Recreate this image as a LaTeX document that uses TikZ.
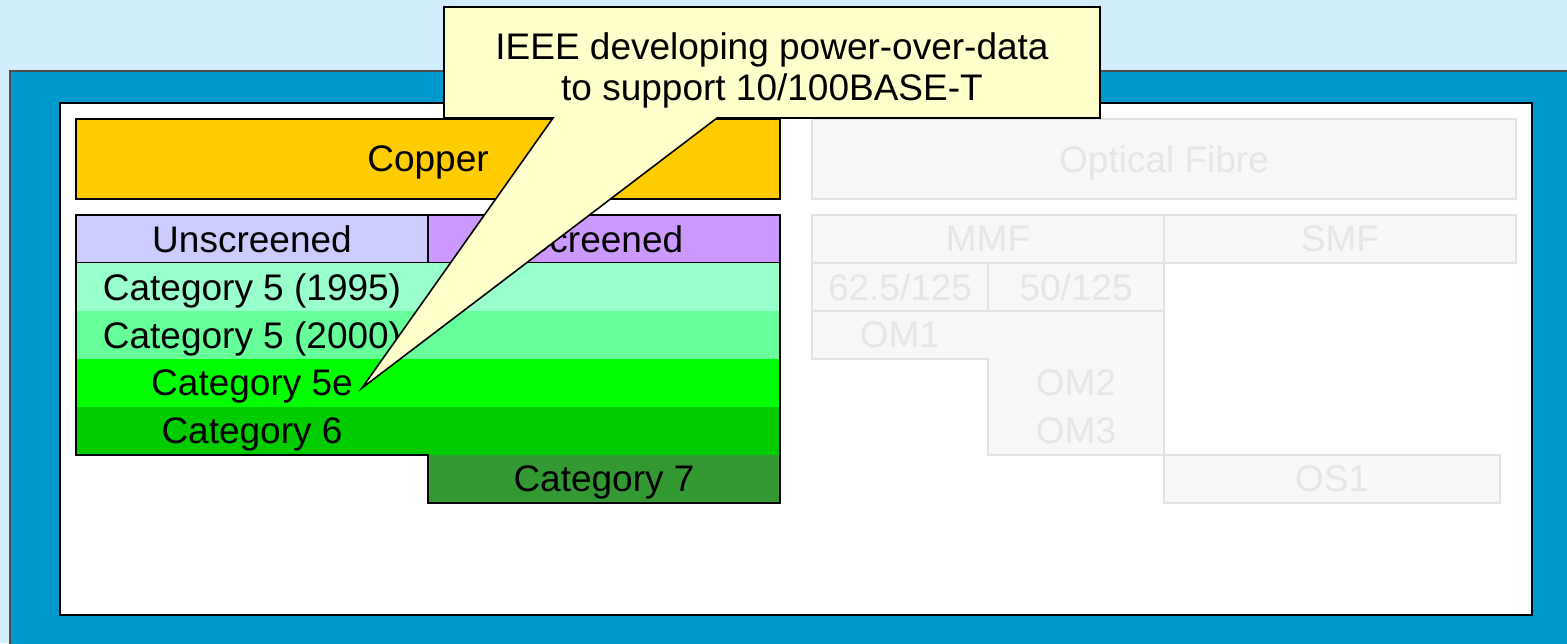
\documentclass[tikz,border=0pt]{standalone}
\usepackage{fontspec}
\setmainfont{Liberation Sans}
\definecolor{bgblue}{HTML}{D2EDFC}
\definecolor{frameblue}{HTML}{0099CC}
\definecolor{copper}{HTML}{FFCC00}
\definecolor{unscr}{HTML}{CCCCFF}
\definecolor{scr}{HTML}{CC99FF}
\definecolor{catfivea}{HTML}{99FFCC}
\definecolor{catfiveb}{HTML}{66FF99}
\definecolor{catfivee}{HTML}{00FF00}
\definecolor{catsix}{HTML}{00CC00}
\definecolor{catseven}{HTML}{339933}
\definecolor{notefill}{HTML}{FFFFCC}
\definecolor{ghostfill}{HTML}{F8F8F8}
\definecolor{ghostline}{HTML}{E2E2E2}
\definecolor{ghosttext}{HTML}{E6E6E6}
\tikzset{
  every node/.style={font=\fontsize{18.5}{20.5}\selectfont, inner sep=0pt, text depth=0pt},
  box/.style={draw=black, line width=0.8pt},
  ghost/.style={draw=ghostline, fill=ghostfill, line width=1pt, text=ghosttext},
}
\begin{document}
\begin{tikzpicture}[x=0.5pt, y=-0.5pt]
 			\useasboundingbox (0,0) rectangle (1567,643);
 			\fill[bgblue] (0,0) rectangle (1567,643);
 			\draw[fill=frameblue, draw=black!70, line width=0.8pt] (10,71) rectangle (1580,660);
 			\draw[fill=white, draw=black, line width=0.8pt] (60,103) rectangle (1532,615);
 			
 			% copper side
 			\node[box, fill=copper, minimum width=352pt, minimum height=40pt] (copper) at (428,159) {Copper};
 			\node[box, fill=unscr, minimum width=176pt, minimum height=24pt] (unscr) at (252,239) {Unscreened};
 			\node[box, fill=scr, minimum width=176pt, minimum height=24pt] (scr) at (604,239) {Screened};
 			\fill[catfivea] (76,263) rectangle (780,311);
 			\fill[catfiveb] (76,311) rectangle (780,359);
 			\fill[catfivee] (76,359) rectangle (780,407);
 			\fill[catsix] (76,407) rectangle (780,455);
 			\fill[catseven] (428,455) rectangle (780,503);
 			\draw[line width=0.8pt] (76,263) -- (76,455) -- (428,455) -- (428,503) -- (780,503) -- (780,263);
 			\node (c5a) at (252,287) {Category 5 (1995)};
 			\node (c5b) at (252,335) {Category 5 (2000)};
 			\node (c5e) at (252,383) {Category 5e};
 			\node (c6) at (252,431) {Category 6};
 			\node (c7) at (604,479) {Category 7};
 			
 			% optical side
 			\node[ghost, minimum width=352pt, minimum height=40pt] (fibre) at (1164,159) {Optical Fibre};
 			\node[ghost, minimum width=176pt, minimum height=24pt] (mmf) at (988,239) {MMF};
 			\node[ghost, minimum width=176pt, minimum height=24pt] (smf) at (1340,239) {SMF};
 			\node[ghost, minimum width=88pt, minimum height=24pt] (mm62) at (900,287) {62.5/125};
 			\node[ghost, minimum width=88pt, minimum height=24pt] (mm50) at (1076,287) {50/125};
 			\draw[ghost] (812,311) -- (1164,311) -- (1164,455) -- (988,455) -- (988,359) -- (812,359) -- cycle;
 			\node[text=ghosttext] (om1) at (900,335) {OM1};
 			\node[text=ghosttext] (om2) at (1076,383) {OM2};
 			\node[text=ghosttext] (om3) at (1076,431) {OM3};
 			\node[ghost, minimum width=168pt, minimum height=24pt] (os1) at (1332,479) {OS1};
 			
 			% callout
 			\coordinate (tip) at (362,388);
 			\draw[fill=notefill, line width=0.8pt] (444,7) -- (1100,7) -- (1100,118) -- (717,118) -- (tip) -- (553,118) -- (444,118) -- cycle;
 			\node[align=center] (ieee) at (772,67) {IEEE developing power-over-data\\to support 10/100BASE-T};
 		\end{tikzpicture}
\end{document}
